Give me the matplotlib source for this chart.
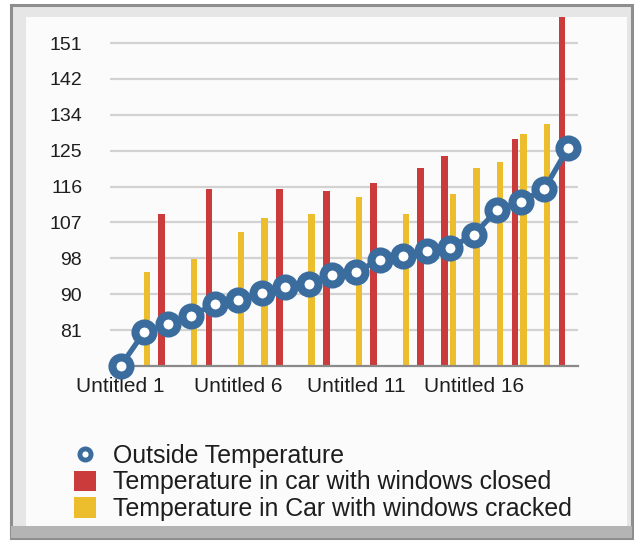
import matplotlib
matplotlib.use("Agg")
import matplotlib.pyplot as plt
import numpy as np
from matplotlib.lines import Line2D
from matplotlib.patches import Patch, Rectangle

plt.rcParams["font.family"] = ["Liberation Sans", "DejaVu Sans"]

# data (None = no bar for that category)
categories = ["Untitled %d" % n for n in range(1, 21)]
outside_temp = [72, 80.3, 82.2, 84.2, 87.3, 88.2, 90, 91.3, 92, 94.3,
                95.1, 98, 99, 100.2, 101, 104.2, 110.3, 112.3, 115.4, 125.4]
closed_temp = [None, 109.3, None, 115.3, None, None, 115.3, None, 114.9, None,
               116.8, None, 120.5, 123.5, None, None, 127.6, None, 160, None]
cracked_temp = [None, 95.1, None, 98.2, None, 104.9, 108.2, None, 109.3, None,
                113.4, None, 109.3, None, 114.1, 120.5, 122.0, 129.0, 131.3, None]
x_tick_labels = ["Untitled 1", "Untitled 6", "Untitled 11", "Untitled 16"]
y_tick_labels = ["81", "90", "98", "107", "116", "125", "134", "142", "151"]
y_min, y_step = 72, 8.8

BLUE = "#3a6c9e"
RED = "#cc3b3b"
YELLOW = "#ecbe2e"
W, H = 634, 542


def px_box(x0, y0, x1, y1):
    # pixel box (top-left origin) -> figure fraction rect
    return (x0 / W, 1 - y1 / H), (x1 - x0) / W, (y1 - y0) / H


fig = plt.figure(figsize=(W / 100, H / 100), dpi=100)
fig.patch.set_facecolor("white")

# window frame + panel, kept behind the axes
xy, w, h = px_box(11, 5, 632, 538)
fig.patches.append(Rectangle(xy, w, h, transform=fig.transFigure, zorder=-10,
                             facecolor="#e6e6e6", edgecolor="#8e8e8e", linewidth=2.2))
xy, w, h = px_box(11, 526, 632, 538)
fig.patches.append(Rectangle(xy, w, h, transform=fig.transFigure, zorder=-9,
                             facecolor="#b4b4b4", edgecolor="none"))
xy, w, h = px_box(26, 17, 627, 526)
fig.patches.append(Rectangle(xy, w, h, transform=fig.transFigure, zorder=-8,
                             facecolor="#fbfbfb", edgecolor="none"))

ax = fig.add_axes([110 / W, 1 - 366 / H, (578 - 110) / W, (366 - 17) / H])
ax.set_facecolor("none")

idx = np.arange(len(categories))
closed = np.array([np.nan if v is None else v for v in closed_temp], dtype=float)
cracked = np.array([np.nan if v is None else v for v in cracked_temp], dtype=float)
has_closed = ~np.isnan(closed)
has_cracked = ~np.isnan(cracked)

bar_w = 0.28
ax.bar(idx[has_cracked] + 0.12, cracked[has_cracked] - y_min, bottom=y_min,
       width=bar_w, color=YELLOW, zorder=2)
ax.bar(idx[has_closed] + 0.75, closed[has_closed] - y_min, bottom=y_min,
       width=bar_w, color=RED, zorder=2)

ax.plot(idx, outside_temp, color=BLUE, linewidth=3.8, marker="o",
        markersize=13, markeredgewidth=5.8, markerfacecolor="white",
        markeredgecolor=BLUE, zorder=4, clip_on=False)

ax.set_xlim(-0.45, 19.43)
ax.set_ylim(y_min, 157.6)

y_ticks = [y_min + y_step * (k + 1) for k in range(len(y_tick_labels))]
ax.set_yticks(y_ticks)
ax.set_yticklabels(y_tick_labels)
ax.set_xticks(idx[::5])
ax.set_xticklabels(x_tick_labels)
ax.tick_params(axis="y", length=0, pad=20, labelsize=14, labelcolor="#1e1e1e")
ax.tick_params(axis="x", length=0, pad=8, labelsize=15, labelcolor="#1e1e1e")
ax.yaxis.grid(True, color="#d2d2d2", linewidth=1.6, zorder=0)
ax.set_axisbelow(True)
for side in ("top", "right", "left"):
    ax.spines[side].set_visible(False)
ax.spines["bottom"].set_color("#8a8a8a")
ax.spines["bottom"].set_linewidth(1.6)

handles = [
    Line2D([], [], color=BLUE, marker="o", linestyle="none", markersize=8,
           markeredgewidth=3.5, markerfacecolor="white"),
    Patch(facecolor=RED),
    Patch(facecolor=YELLOW),
]
labels = ["Outside Temperature", "Temperature in car with windows closed",
          "Temperature in Car with windows cracked"]
fig.legend(handles, labels, loc="upper left", bbox_to_anchor=(74 / W, 1 - 444 / H),
           frameon=False, fontsize=17.9, handlelength=0.9, handleheight=0.9,
           handletextpad=0.68, labelspacing=0.1, borderpad=0, borderaxespad=0,
           labelcolor="#1e1e1e")

fig.savefig("out.png", dpi=100)
